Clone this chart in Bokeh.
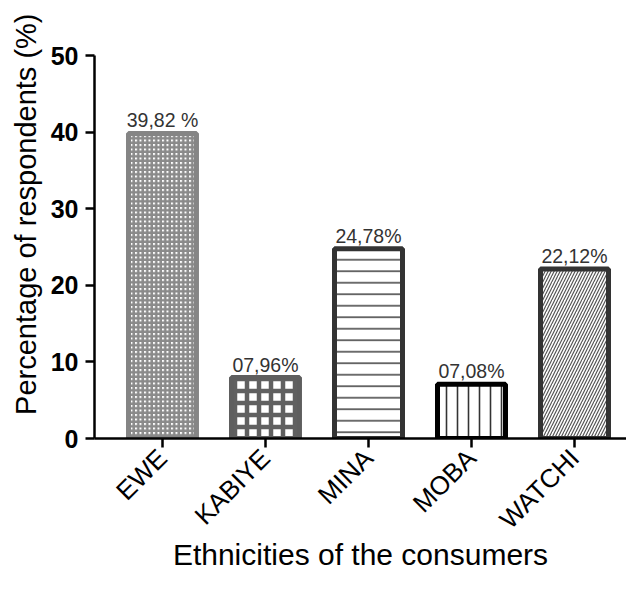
from bokeh.plotting import figure
from bokeh.models import Range1d, ColumnDataSource, FixedTicker, Title
from bokeh.embed import file_html
from bokeh.resources import INLINE
from bokeh.core.properties import value
import math

categories = ["EWE", "KABIYE", "MINA", "MOBA", "WATCHI"]
percentages = [39.82, 7.96, 24.78, 7.08, 22.12]
value_labels = ["39,82 %", "07,96%", "24,78%", "07,08%", "22,12%"]
y_ticks = [0, 10, 20, 30, 40, 50]
x_title = "Ethnicities of the consumers"
y_title = "Percentage of respondents (%)"

# styles
line_colors = ["#858585", "#5e5e5e", "#333333", "#000000", "#333333"]
hatch_patterns = ["cross", "cross", "horizontal_line", "vertical_line", "right_diagonal_line"]
hatch_colors = ["#8a8a8a", "#606060", "#4a4a4a", "#333333", "#555555"]
hatch_scales = [4.5, 12, 11.5, 11, 6]
hatch_weights = [2.5, 4.5, 1.6, 1.6, 1.2]

FONT = "Liberation Sans"

xs = list(range(len(categories)))
src = ColumnDataSource(dict(
    x=xs, top=percentages, lab=value_labels, lc=line_colors,
    hp=hatch_patterns, hc=hatch_colors, hs=hatch_scales, hw=hatch_weights,
))

p = figure(width=626, height=574, output_backend="svg", toolbar_location=None,
           x_range=Range1d(-0.66, 4.505), y_range=Range1d(0, 50),
           min_border_left=94, min_border_top=55, min_border_right=0,
           min_border_bottom=136)
p.outline_line_color = None
p.grid.visible = False

p.vbar(x="x", top="top", bottom=0, width=0.66, source=src,
       fill_color="white", line_color="lc", line_width=5,
       hatch_pattern="hp", hatch_color="hc", hatch_scale="hs", hatch_weight="hw")

p.text(x="x", y="top", text="lab", source=src, text_align="center",
       text_baseline="alphabetic", y_offset=-13, text_color="#333333",
       text_font=value(FONT), text_font_size="19.5px")

# y axis
ya = p.yaxis[0]
ya.ticker = FixedTicker(ticks=y_ticks)
ya.major_label_text_font = FONT
ya.major_label_text_font_size = "25px"
ya.major_label_text_font_style = "bold"
ya.major_label_text_color = "black"
ya.major_label_standoff = 7
ya.axis_line_width = 2.5
ya.major_tick_line_width = 2.5
ya.major_tick_out = 9
ya.major_tick_in = 0
ya.minor_tick_line_color = None

# x axis
xa = p.xaxis[0]
xa.ticker = FixedTicker(ticks=xs)
xa.major_label_overrides = {i: c for i, c in zip(xs, categories)}
xa.major_label_orientation = math.pi / 4
xa.major_label_text_font = FONT
xa.major_label_text_font_size = "26px"
xa.major_label_text_font_style = "normal"
xa.major_label_text_color = "black"
xa.major_label_standoff = 6
xa.axis_line_width = 2.5
xa.major_tick_line_width = 2.5
xa.major_tick_out = 9
xa.major_tick_in = 0
xa.minor_tick_line_color = None
xa.axis_label = x_title
xa.axis_label_text_font = FONT
xa.axis_label_text_font_size = "30px"
xa.axis_label_text_font_style = "normal"
xa.axis_label_text_color = "black"
xa.axis_label_standoff = -10

p.add_layout(Title(text=y_title, align="right", offset=-42,
                   text_font=FONT, text_font_size="29px", text_font_style="normal",
                   text_color="black", standoff=12), "left")

open("out.html", "w").write(file_html(p, INLINE))
